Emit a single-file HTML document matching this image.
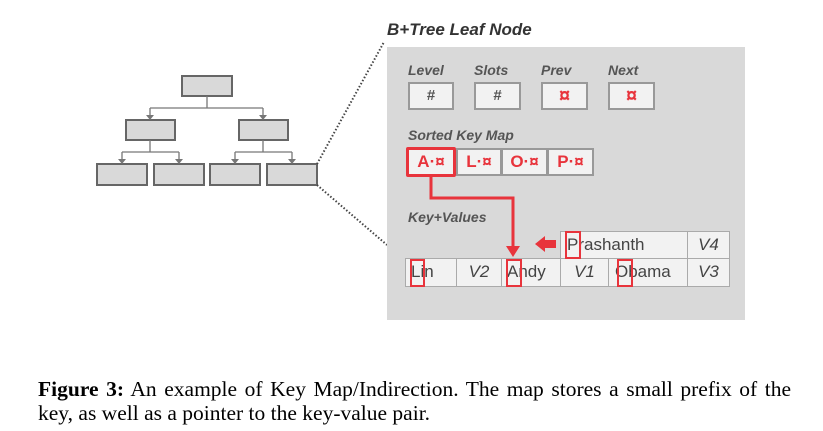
<!DOCTYPE html>
<html><head><style>
body{margin:0;background:#fff;width:823px;height:431px;overflow:hidden;position:relative;font-family:"Liberation Sans",sans-serif}
.a{position:absolute}
.lbl{position:absolute;font-weight:bold;font-style:italic;font-size:14px;color:#555}
.bx{position:absolute;box-sizing:border-box;background:#f2f2f2;border:2px solid #999;text-align:center;font-weight:bold;font-size:15px;color:#555}
.red{color:#e8343c}
.big{font-size:20px}
.c{position:absolute;box-sizing:border-box;background:#f2f2f2;border:1.5px solid #aaa;font-size:17px;color:#444;line-height:26px}
.r{position:absolute;box-sizing:border-box;border:2px solid #e8343c}
.cap{position:absolute;left:38px;font-family:"Liberation Serif",serif;font-size:21.5px;color:#000;white-space:nowrap}
</style></head><body>
<svg class="a" style="left:0;top:0" width="823" height="431">
<g fill="#d9d9d9" stroke="#666" stroke-width="2">
<rect x="182" y="76" width="50" height="20"/>
<rect x="126" y="120" width="49" height="20"/><rect x="239" y="120" width="49" height="20"/>
<rect x="97" y="164" width="50" height="21"/><rect x="154" y="164" width="50" height="21"/>
<rect x="210" y="164" width="50" height="21"/><rect x="267" y="164" width="50" height="21"/>
</g>
<g stroke="#777" stroke-width="1.3" fill="none">
<path d="M207 96V108M150 108H263M150 108V116M263 108V116"/>
<path d="M150 140V152M122 152H179M122 152V160M179 152V160"/>
<path d="M263 140V152M235 152H292M235 152V160M292 152V160"/>
</g>
<g fill="#777">
<path d="M146 115h8l-4 5z"/><path d="M259 115h8l-4 5z"/>
<path d="M118 159h8l-4 5z"/><path d="M175 159h8l-4 5z"/><path d="M231 159h8l-4 5z"/><path d="M288 159h8l-4 5z"/>
</g>
<g stroke="#444" stroke-width="2" stroke-dasharray="1.5 2" fill="none">
<path d="M317 164L384 42"/><path d="M317 185L387 245"/>
</g>
<rect x="387" y="47" width="358" height="273" fill="#d9d9d9"/>
</svg>
<div class="a" style="left:387px;top:20px;font-weight:bold;font-style:italic;font-size:17px;color:#333">B+Tree Leaf Node</div>
<div class="lbl" style="left:408px;top:62px">Level</div>
<div class="lbl" style="left:474px;top:62px">Slots</div>
<div class="lbl" style="left:541px;top:62px">Prev</div>
<div class="lbl" style="left:608px;top:62px">Next</div>
<div class="bx" style="left:408px;top:82px;width:46px;height:28px;line-height:24px">#</div>
<div class="bx" style="left:474px;top:82px;width:47px;height:28px;line-height:24px">#</div>
<div class="bx red big" style="left:541px;top:82px;width:47px;height:28px;line-height:24px">¤</div>
<div class="bx red big" style="left:608px;top:82px;width:47px;height:28px;line-height:24px">¤</div>
<div class="lbl" style="left:408px;top:127px">Sorted Key Map</div>
<div class="bx red" style="left:456px;top:148px;width:46px;height:28px;line-height:24px;font-size:17px">L·¤</div>
<div class="bx red" style="left:501px;top:148px;width:47px;height:28px;line-height:24px;font-size:17px">O·¤</div>
<div class="bx red" style="left:547px;top:148px;width:47px;height:28px;line-height:24px;font-size:17px">P·¤</div>
<div class="bx red" style="left:406px;top:147px;width:50px;height:30px;line-height:24px;font-size:17px;border:3px solid #e8343c;border-radius:2px">A·¤</div>
<div class="lbl" style="left:408px;top:209px">Key+Values</div>
<div class="c" style="left:560px;top:231px;width:128px;height:28px;padding-left:6px">Prashanth</div>
<div class="c" style="left:687px;top:231px;width:43px;height:28px;text-align:center;font-style:italic">V4</div>
<div class="c" style="left:405px;top:258px;width:52px;height:29px;padding-left:5px">Lin</div>
<div class="c" style="left:456px;top:258px;width:46px;height:29px;text-align:center;font-style:italic">V2</div>
<div class="c" style="left:501px;top:258px;width:60px;height:29px;padding-left:5px">Andy</div>
<div class="c" style="left:560px;top:258px;width:49px;height:29px;text-align:center;font-style:italic">V1</div>
<div class="c" style="left:608px;top:258px;width:80px;height:29px;padding-left:6px">Obama</div>
<div class="c" style="left:687px;top:258px;width:43px;height:29px;text-align:center;font-style:italic">V3</div>
<div class="r" style="left:410px;top:259px;width:15px;height:28px"></div>
<div class="r" style="left:506px;top:259px;width:16px;height:28px"></div>
<div class="r" style="left:617px;top:259px;width:16px;height:28px"></div>
<div class="r" style="left:565px;top:231px;width:16px;height:28px"></div>
<svg class="a" style="left:0;top:0" width="823" height="431">
<path d="M431 177V198H513V248" stroke="#e8343c" stroke-width="3" fill="none"/>
<path d="M506 246h14l-7 11z" fill="#e8343c"/>
<path d="M535 244L545 236V240H556V248H545V252z" fill="#e8343c"/>
</svg>
<div class="cap" style="top:377px;word-spacing:2.2px"><b>Figure 3:</b> An example of Key Map/Indirection. The map stores a small prefix of the</div>
<div class="cap" style="top:401px">key, as well as a pointer to the key-value pair.</div>
</body></html>
